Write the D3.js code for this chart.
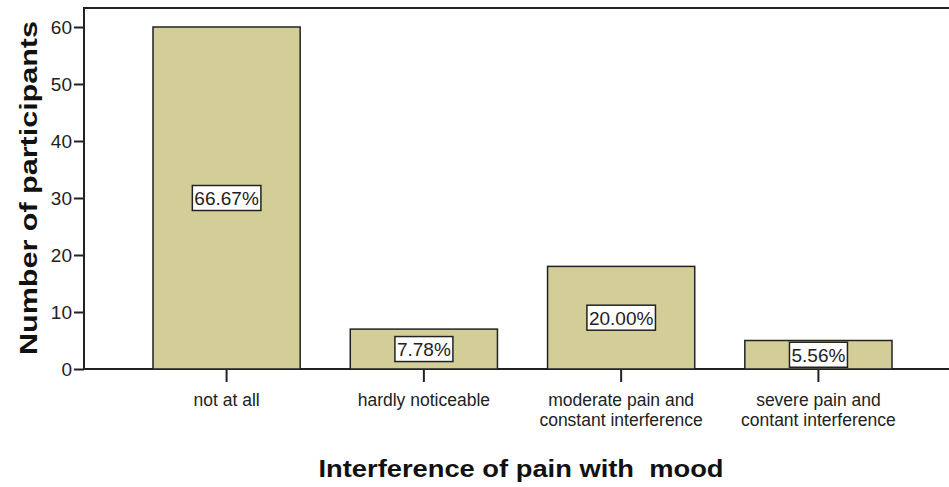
<!DOCTYPE html>
<html>
<head>
<meta charset="utf-8">
<script src="https://cdn.jsdelivr.net/npm/d3@7"></script>
<style>
  body { margin: 0; background: #fff; }
  svg { display: block; }
</style>
</head>
<body>
<svg id="chart"></svg>
<script>
// data
const categories = [
  ["not at all"],
  ["hardly noticeable"],
  ["moderate pain and", "constant interference"],
  ["severe pain and", "contant interference"]
];
const counts = [60, 7, 18, 5];
const percentLabels = ["66.67%", "7.78%", "20.00%", "5.56%"];
const yTicks = [0, 10, 20, 30, 40, 50, 60];

const W = 949, H = 487;
const frame = {left: 84, top: 8, right: 955, bottom: 369};

const svg = d3.select("#chart")
  .attr("width", W)
  .attr("height", H)
  .style("font-family", "'Liberation Sans', Arial, sans-serif");

// scales
const x = d3.scaleBand()
  .domain(d3.range(categories.length))
  .range([153, 892])
  .paddingInner(0.254)
  .paddingOuter(0);
const y = d3.scaleLinear()
  .domain([0, 60])
  .range([frame.bottom, 27]);

// frame
svg.append("rect")
  .attr("x", frame.left)
  .attr("y", frame.top)
  .attr("width", frame.right - frame.left)
  .attr("height", frame.bottom - frame.top)
  .attr("fill", "none")
  .attr("stroke", "#222")
  .attr("stroke-width", 2);

// bars
svg.append("g")
  .selectAll("rect")
  .data(counts)
  .join("rect")
  .attr("x", (d, i) => x(i))
  .attr("y", d => y(d))
  .attr("width", x.bandwidth())
  .attr("height", d => y(0) - y(d))
  .attr("fill", "#d3ce97")
  .attr("stroke", "#222")
  .attr("stroke-width", 1.5);

// y axis
const yAxis = svg.append("g")
  .attr("transform", `translate(${frame.left},0)`)
  .call(d3.axisLeft(y).tickValues(yTicks).tickSize(10).tickPadding(2));
yAxis.select(".domain").remove();
yAxis.selectAll(".tick line").attr("stroke", "#222").attr("stroke-width", 2);
yAxis.selectAll(".tick text")
  .attr("font-size", 19)
  .attr("font-family", "'Liberation Sans', Arial, sans-serif")
  .attr("fill", "#222");

// x axis
const xAxis = svg.append("g")
  .attr("transform", `translate(0,${frame.bottom})`)
  .call(d3.axisBottom(x).tickSize(13).tickFormat(""));
xAxis.select(".domain").remove();
xAxis.selectAll(".tick line").attr("stroke", "#222").attr("stroke-width", 2);

const xLabels = svg.append("g")
  .selectAll("text")
  .data(categories)
  .join("text")
  .attr("x", (d, i) => x(i) + x.bandwidth() / 2)
  .attr("y", 406)
  .attr("text-anchor", "middle")
  .attr("font-size", 17.5)
  .attr("fill", "#222");
xLabels.selectAll("tspan")
  .data(d => d)
  .join("tspan")
  .attr("x", function() { return this.parentNode.getAttribute("x"); })
  .attr("dy", (d, i) => i === 0 ? 0 : 20)
  .text(d => d);

// value labels in boxes
const valueG = svg.append("g")
  .selectAll("g")
  .data(counts)
  .join("g")
  .attr("transform", (d, i) => `translate(${x(i) + x.bandwidth() / 2},${y(d / 2)})`);
valueG.append("rect")
  .attr("fill", "#fff")
  .attr("stroke", "#222")
  .attr("stroke-width", 1.5);
valueG.append("text")
  .attr("text-anchor", "middle")
  .attr("dy", "0.36em")
  .attr("font-size", 19)
  .attr("fill", "#222")
  .text((d, i) => percentLabels[i]);
valueG.each(function() {
  const g = d3.select(this);
  const b = g.select("text").node().getBBox();
  g.select("rect")
    .attr("x", b.x - 2)
    .attr("y", -12.5)
    .attr("width", b.width + 4)
    .attr("height", 25);
});

// axis titles
svg.append("text")
  .attr("x", 521)
  .attr("y", 477)
  .attr("text-anchor", "middle")
  .attr("font-size", 24)
  .attr("font-weight", "bold")
  .attr("fill", "#111")
  .style("white-space", "pre")
  .attr("textLength", 405)
  .attr("lengthAdjust", "spacingAndGlyphs")
  .text("Interference of pain with  mood");

svg.append("text")
  .attr("transform", "translate(37,188) rotate(-90)")
  .attr("text-anchor", "middle")
  .attr("font-size", 24)
  .attr("font-weight", "bold")
  .attr("fill", "#111")
  .attr("textLength", 334)
  .attr("lengthAdjust", "spacingAndGlyphs")
  .text("Number of participants");
</script>
</body>
</html>
